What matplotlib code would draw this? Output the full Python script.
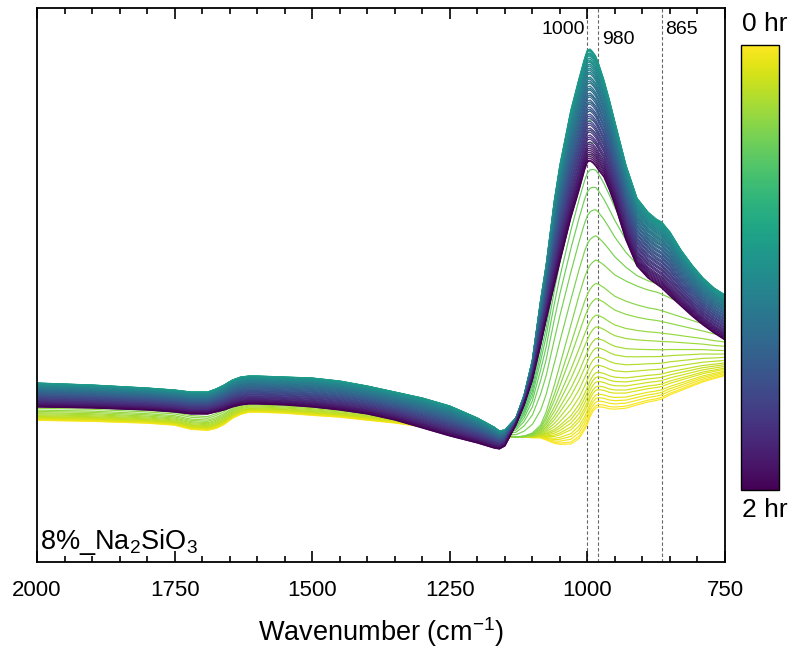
import numpy as np
import matplotlib
matplotlib.use("Agg")
import matplotlib.pyplot as plt
from matplotlib.ticker import MultipleLocator
from matplotlib.cm import ScalarMappable

plt.rcParams['font.family'] = ['Liberation Sans', 'DejaVu Sans']
plt.rcParams['mathtext.fontset'] = 'custom'
plt.rcParams['mathtext.rm'] = 'Liberation Sans'
plt.rcParams['mathtext.it'] = 'Liberation Sans:italic'
plt.rcParams['mathtext.default'] = 'regular'

# wavenumber grid (cm-1) where the reference spectra were read
wavenumber = [2000, 1900, 1800, 1750, 1720, 1690, 1675, 1660, 1645, 1630,
              1615, 1600, 1550, 1500, 1450, 1400, 1350, 1300, 1250, 1200,
              1170, 1160, 1150, 1130, 1115, 1100, 1085, 1075, 1060, 1050,
              1030, 1015, 1005, 1000, 995, 990, 985, 980, 970, 960,
              950, 930, 910, 890, 875, 865, 850, 830, 810, 790,
              770, 750]

# intensity (a.u.) of four reference spectra
spec_0h = [144, 143, 141, 139, 135, 134, 136, 140, 146, 150,
           152, 152, 151, 149, 147, 144, 141, 137, 133, 129,
           126, 125, 125, 125, 125, 125, 126, 126, 127, 129,
           135, 144, 154, 160, 167, 172, 175, 176, 175, 173,
           172, 172, 174, 176, 177, 178, 181, 184, 187, 190,
           192, 194]
spec_green = [158, 157, 154, 152, 149, 148, 151, 155, 160, 164,
              165, 165, 164, 163, 160, 157, 153, 148, 142, 134,
              129, 127, 127, 125, 126, 129, 137, 150, 177, 197,
              237, 267, 285, 292, 297, 300, 302, 301, 297, 292,
              287, 281, 276, 272, 270, 268, 264, 259, 254, 249,
              244, 240]
spec_max = [179, 177, 174, 172, 170, 170, 173, 177, 182, 185,
            186, 186, 185, 184, 181, 176, 170, 164, 156, 144,
            135, 131, 132, 144, 167, 202, 262, 297, 362, 397,
            452, 484, 504, 512, 513, 510, 506, 499, 482, 462,
            440, 397, 364, 350, 343, 340, 330, 312, 297, 284,
            274, 267]
spec_2h = [155, 154, 152, 150, 148, 148, 150, 152, 155, 157,
           158, 158, 157, 155, 152, 148, 142, 134, 126, 119,
           114, 113, 116, 137, 157, 182, 217, 242, 277, 300,
           344, 372, 392, 400, 401, 399, 396, 392, 385, 372,
           357, 322, 296, 284, 278, 274, 266, 256, 246, 237,
           229, 222]

# band maximum of every spectrum, in time order
rise_peak = [176, 178, 181, 184, 187, 191, 194, 198, 202, 206,
             212, 219, 227, 235, 245, 255, 269, 282, 302, 327,
             354, 377, 395, 410, 422, 434, 444, 453, 461, 468,
             474, 480, 485, 490, 494, 498, 501, 504, 507, 509,
             511, 512, 513]
decay_peak = [512, 511, 509, 508, 506, 504, 502, 500, 498, 496,
              494, 492, 490, 488, 485, 483, 481, 479, 476, 474,
              472, 469, 467, 465, 462, 460, 458, 455, 453, 451,
              448, 446, 444, 441, 439, 437, 434, 432, 430, 427,
              425, 423, 420, 418, 416, 414, 412, 410, 408, 406,
              404, 402, 401]

marks = [1000, 980, 865]
mark_labels = ['1000', '980', '865']

w = np.array(wavenumber)
y0, yg, ym, y2 = (np.array(s, float) for s in (spec_0h, spec_green, spec_max, spec_2h))


def mix(a, b, pa, pb, p):
    t = (p - pa) / (pb - pa)
    return a + t * (b - a)


spectra = []
for p in rise_peak:
    if p <= yg.max():
        spectra.append(mix(y0, yg, y0.max(), yg.max(), p))
    else:
        spectra.append(mix(yg, ym, yg.max(), ym.max(), p))
for p in decay_peak:
    spectra.append(mix(ym, y2, ym.max(), y2.max(), p))

n = len(spectra)
cmap = plt.get_cmap('viridis')

fig = plt.figure(figsize=(7.92, 6.51), dpi=100)
ax = fig.add_axes([37 / 792, 1 - 562 / 651, 688 / 792, 554 / 651])

for m in marks:
    ax.axvline(m, color='#666666', lw=0.8, ls=(0, (3, 2)), zorder=1)

for i, s in enumerate(spectra):
    ax.plot(w, s, color=cmap(1 - i / (n - 1)), lw=0.85, zorder=2)

ax.set_xlim(2000, 750)
ax.set_ylim(0, 554)
ax.set_yticks([])
ax.set_xticks([2000, 1750, 1500, 1250, 1000, 750])
ax.xaxis.set_minor_locator(MultipleLocator(50))
ax.tick_params(axis='x', which='both', direction='in', top=True, labelsize=16, pad=13)
ax.tick_params(axis='x', which='major', length=8, width=1.2)
ax.tick_params(axis='x', which='minor', length=4, width=1.2)
for sp in ax.spines.values():
    sp.set_linewidth(1.3)
ax.set_xlabel('Wavenumber (cm$^{-1}$)', fontsize=19.5, labelpad=10)

ax.text(1004, 532, mark_labels[0], ha='right', va='center', fontsize=14)
ax.text(974, 522, mark_labels[1], ha='left', va='center', fontsize=14)
ax.text(859, 532, mark_labels[2], ha='left', va='center', fontsize=14)
ax.text(0.005, 0.023, '8%_Na$_2$SiO$_3$', transform=ax.transAxes,
        ha='left', va='baseline', fontsize=19.5)

cax = fig.add_axes([741 / 792, 1 - 490 / 651, 38 / 792, 445 / 651])
cb = fig.colorbar(ScalarMappable(cmap=cmap), cax=cax)
cb.set_ticks([])
cb.outline.set_linewidth(1.0)
fig.text(765 / 792, 1 - 24 / 651, '0 hr', ha='center', va='center', fontsize=19)
fig.text(765 / 792, 1 - 510 / 651, '2 hr', ha='center', va='center', fontsize=19)

fig.savefig('out.png', dpi=100)
